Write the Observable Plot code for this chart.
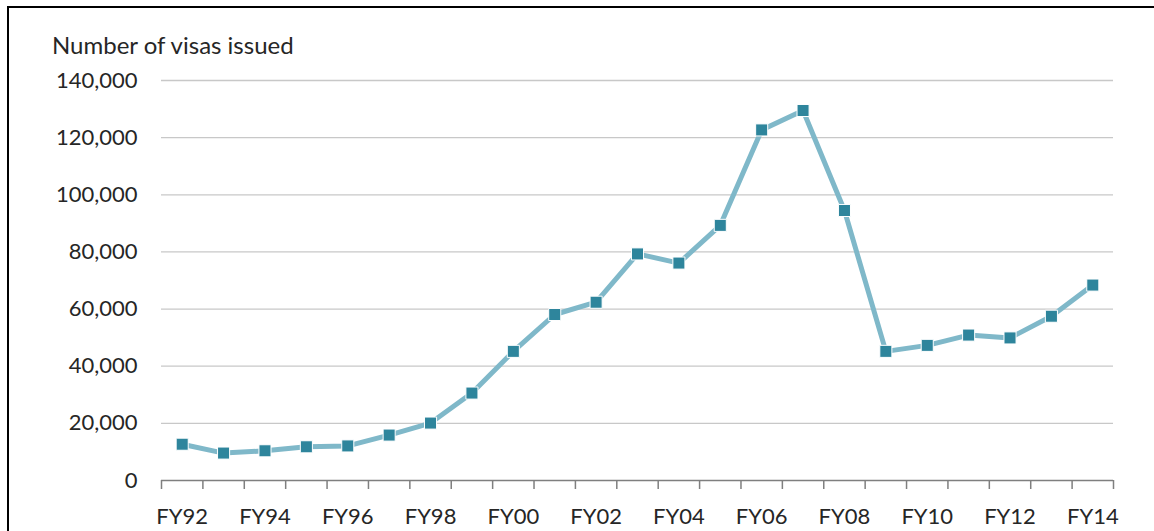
<!DOCTYPE html>
<html>
<head>
<meta charset="utf-8">
<script src="https://cdn.jsdelivr.net/npm/d3@7"></script>
<script src="https://cdn.jsdelivr.net/npm/@observablehq/plot@0.6"></script>
<style>
  html, body { margin: 0; padding: 0; background: #fff; overflow: hidden; width: 1154px; height: 531px; }
  #frame { position: absolute; left: 7px; top: 6px; width: 1200px; height: 600px; border: 2px solid #000; box-sizing: border-box; }
  #title { position: absolute; left: 52px; top: 33px; font-family: Lato, "Open Sans", sans-serif; font-size: 24px; line-height: 24px; color: #262626; white-space: nowrap; }
  #chart { position: absolute; left: 0; top: 0; }
</style>
</head>
<body>
<div id="frame"></div>
<div id="chart"></div>
<div id="title">Number of visas issued</div>
<script>
const years = ["FY92","FY93","FY94","FY95","FY96","FY97","FY98","FY99","FY00","FY01","FY02","FY03","FY04","FY05","FY06","FY07","FY08","FY09","FY10","FY11","FY12","FY13","FY14"];
const visas = [12700, 9600, 10400, 11800, 12100, 15900, 20100, 30600, 45200, 58100, 62400, 79300, 76100, 89300, 122700, 129500, 94500, 45200, 47300, 50900, 49900, 57500, 68400];
const yTicks = [0, 20000, 40000, 60000, 80000, 100000, 120000, 140000];
const shownLabels = ["FY92","FY94","FY96","FY98","FY00","FY02","FY04","FY06","FY08","FY10","FY12","FY14"];

const data = years.map((y, i) => ({year: y, i: i + 0.5, value: visas[i]}));
const boundaries = d3.range(0, years.length + 1);
const labelPos = shownLabels.map(l => years.indexOf(l) + 0.5);
const fmt = d3.format(",");

const chart = Plot.plot({
  width: 1154,
  height: 531,
  marginLeft: 161,
  marginRight: 41,
  marginTop: 80,
  marginBottom: 51,
  style: { fontFamily: "Lato, 'Open Sans', sans-serif", fontSize: "22px", color: "#262626", background: "transparent" },
  x: { type: "linear", domain: [0, years.length] },
  y: { domain: [0, 140000] },
  marks: [
    Plot.gridY(yTicks.filter(d => d > 0), { stroke: "#c8c8c8", strokeOpacity: 1, strokeWidth: 1.3 }),
    Plot.axisY({ ticks: yTicks, tickSize: 0, tickPadding: 24, tickFormat: fmt, label: null }),
    Plot.ruleY([0], { stroke: "#7f7f7f", strokeWidth: 1.5 }),
    Plot.axisX({ ticks: boundaries, tickSize: 9, tickFormat: () => "", stroke: "#7f7f7f", strokeWidth: 1.5, label: null }),
    Plot.axisX({ ticks: labelPos, tickSize: 0, tickPadding: 28, tickFormat: d => years[Math.round(d - 0.5)], label: null }),
    Plot.line(data, { x: "i", y: "value", stroke: "#7fb8c9", strokeWidth: 5 }),
    Plot.dot(data, { x: "i", y: "value", symbol: "square", r: 6.8, fill: "#2e859c", stroke: "#ffffff", strokeWidth: 1 })
  ]
});
document.getElementById("chart").appendChild(chart);
</script>
</body>
</html>
